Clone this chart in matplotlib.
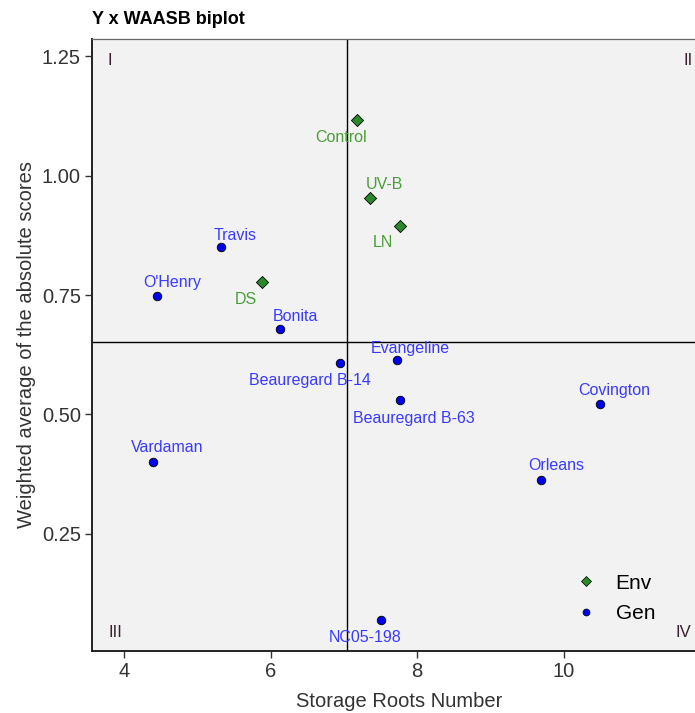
import matplotlib
matplotlib.use("Agg")
import matplotlib.pyplot as plt
from matplotlib.lines import Line2D

plt.rcParams['font.family'] = ['Liberation Sans', 'DejaVu Sans']

# Data
env_names = ["Control", "UV-B", "LN", "DS"]
env_x = [7.18, 7.36, 7.77, 5.88]
env_y = [1.116, 0.953, 0.894, 0.777]

gen_names = ["Travis", "O'Henry", "Bonita", "Beauregard B-14", "Evangeline",
             "Beauregard B-63", "Covington", "Orleans", "Vardaman", "NC05-198"]
gen_x = [5.32, 4.45, 6.13, 6.95, 7.72, 7.76, 10.49, 9.69, 4.40, 7.51]
gen_y = [0.850, 0.748, 0.679, 0.608, 0.614, 0.530, 0.522, 0.363, 0.401, 0.070]

mean_x = 7.04
mean_y = 0.652

xticks = [4, 6, 8, 10]
yticks = [0.25, 0.50, 0.75, 1.00, 1.25]

# label offsets in pixels (dx, dy) relative to points
env_off = [(-16, -17), (14, 13), (-17, -16), (-16, -17)]
gen_off = [(14, 12), (15, 13), (15, 12), (-30, -18), (14, 12),
           (14, -18), (15, 13), (15, 14), (14, 14), (-16, -17)]

fig = plt.figure(figsize=(6.95, 7.13), dpi=100)
ax = fig.add_axes([92/695, 1 - 651/713, (695 - 92)/695, (651 - 39)/713])
ax.set_facecolor("#f2f2f2")

ax.set_xlim(3.563, 11.79)
ax.set_ylim(0.0052, 1.2856)

ax.axvline(mean_x, color="black", lw=1.0, zorder=1)
ax.axhline(mean_y, color="black", lw=1.0, zorder=1)

ax.scatter(env_x, env_y, marker="D", s=38, color="#2a8a2a", edgecolors="black",
           linewidths=0.6, zorder=3)
ax.scatter(gen_x, gen_y, marker="o", s=38, color="#0000ee", edgecolors="black",
           linewidths=0.6, zorder=3)

for n, x, y, (dx, dy) in zip(env_names, env_x, env_y, env_off):
    ax.annotate(n, (x, y), xytext=(dx, dy), textcoords="offset pixels",
                ha="center", va="center", color="#4a9e3a", fontsize=11.5)
for n, x, y, (dx, dy) in zip(gen_names, gen_x, gen_y, gen_off):
    ax.annotate(n, (x, y), xytext=(dx, dy), textcoords="offset pixels",
                ha="center", va="center", color="#3a3aff", fontsize=11.5)

qc = "#3a2030"
ax.text(3.563 + 18/73.3, 1.25 - 4/478, "I", color=qc, fontsize=12, ha="center", va="center")
ax.text(11.79 - 7/73.3, 1.25 - 4/478, "II", color=qc, fontsize=12, ha="center", va="center")
ax.text(3.563 + 23/73.3, 1.25 - 577/478, "III", color=qc, fontsize=12, ha="center", va="center")
ax.text(11.79 - 12/73.3, 1.25 - 577/478, "IV", color=qc, fontsize=12, ha="center", va="center")

ax.set_xticks(xticks)
ax.set_xticklabels([str(t) for t in xticks])
ax.set_yticks(yticks)
ax.set_yticklabels([f"{t:.2f}" for t in yticks])
ax.tick_params(axis="both", labelsize=14.5, colors="#333333", length=5, width=1.0, pad=3)

for s in ["left", "bottom"]:
    ax.spines[s].set_color("#222222")
    ax.spines[s].set_linewidth(1.4)
ax.spines["top"].set_color("#666666")
ax.spines["top"].set_linewidth(0.9)
ax.spines["right"].set_visible(False)

ax.set_xlabel("Storage Roots Number", fontsize=14.5, color="#333333", labelpad=9)
ax.xaxis.set_label_coords(0.51, -0.055 - 0.012)
ax.set_ylabel("Weighted average of the absolute scores", fontsize=14.5, color="#333333", labelpad=4)

fig.text(92/695, 1 - 20/713, "Y x WAASB biplot", fontsize=13, fontweight="bold",
         ha="left", va="center", color="black")

handles = [Line2D([], [], marker="D", linestyle="none", markersize=5, markerfacecolor="#2a8a2a",
                  markeredgecolor="black", markeredgewidth=0.5),
           Line2D([], [], marker="o", linestyle="none", markersize=5, markerfacecolor="#0000ee",
                  markeredgecolor="black", markeredgewidth=0.5)]
ax.legend(handles, ["Env", "Gen"], loc="lower right", bbox_to_anchor=(0.965, 0.015),
          frameon=False, fontsize=15, handletextpad=0.8, labelspacing=0.55, handlelength=1.2)

fig.savefig("out.png", dpi=100)
